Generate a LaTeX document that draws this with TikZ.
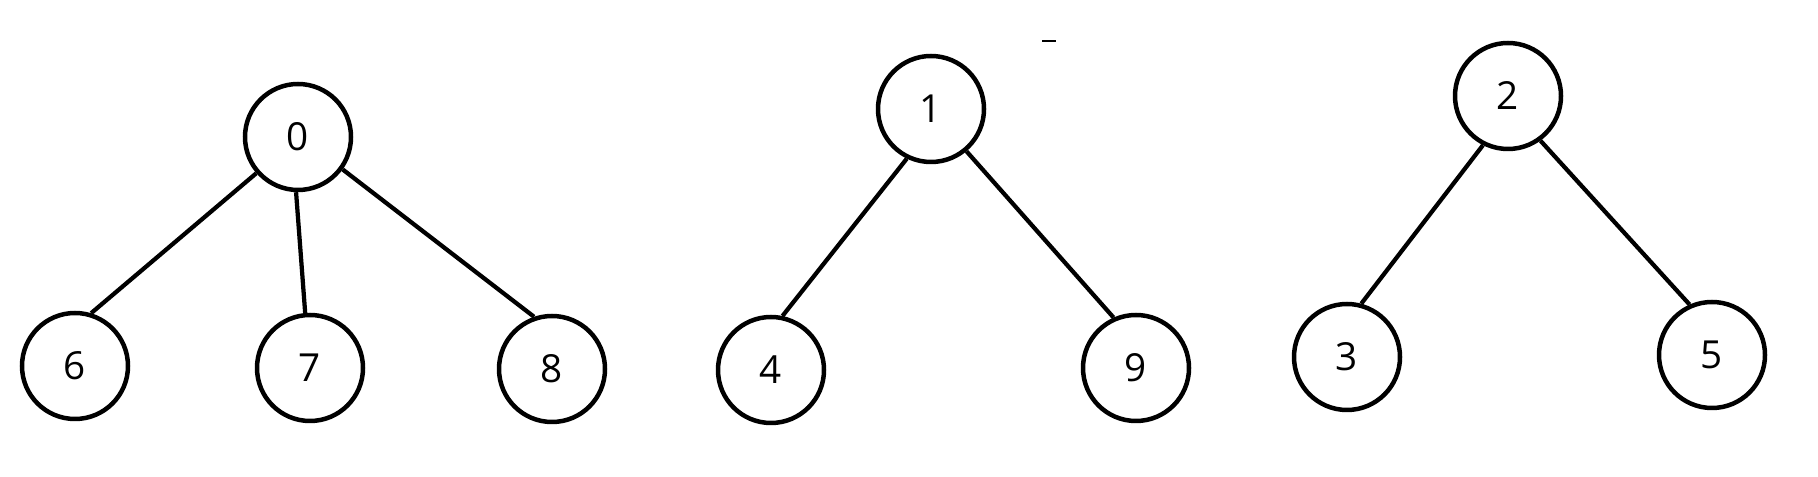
\documentclass[tikz,border=0pt]{standalone}
\usepackage{fontspec}
\setmainfont{Open Sans}
\usetikzlibrary{positioning}

\tikzset{
    vertex/.style={circle,draw,line width=0.09cm,minimum size=2.12cm,inner sep=0pt,font=\fontsize{22}{26}\selectfont},
    branch/.style={line width=0.085cm}
}

\begin{document}
\begin{tikzpicture}[on grid,auto]
    \useasboundingbox (0,0) rectangle (36.36,-9.54);
    \node[vertex] (n_0) at (5.96,-2.74) {0};
    \node[vertex] (n_6)[below left= 4.58cm and 4.46cm of n_0] {6};
    \node[vertex] (n_7)[below right= 4.62cm and 0.24cm of n_0] {7};
    \node[vertex] (n_8)[below right= 4.64cm and 5.08cm of n_0] {8};

    \node[vertex] (n_1)[above right= 0.56cm and 12.66cm of n_0] {1};
    \node[vertex] (n_4)[below left= 5.22cm and 3.20cm of n_1] {4};
    \node[vertex] (n_9)[below right= 5.18cm and 4.10cm of n_1] {9};

    \node[vertex] (n_2)[above right= 0.26cm and 11.54cm of n_1] {2};
    \node[vertex] (n_3)[below left= 5.22cm and 3.22cm of n_2] {3};
    \node[vertex] (n_5)[below right= 5.18cm and 4.08cm of n_2] {5};

    \path[branch]
    (n_0.221) edge (n_6.73)
    (n_0.268) edge (n_7.95)
    (n_0.324) edge (n_8.109)
    (n_1.244) edge (n_4.78)
    (n_1.310) edge (n_9.114)
    (n_2.243) edge (n_3.75)
    (n_2.306) edge (n_5.114);

    % small stray stroke
    \draw[line width=0.03cm] (20.84,-0.82) -- (21.12,-0.82);
\end{tikzpicture}
\end{document}
